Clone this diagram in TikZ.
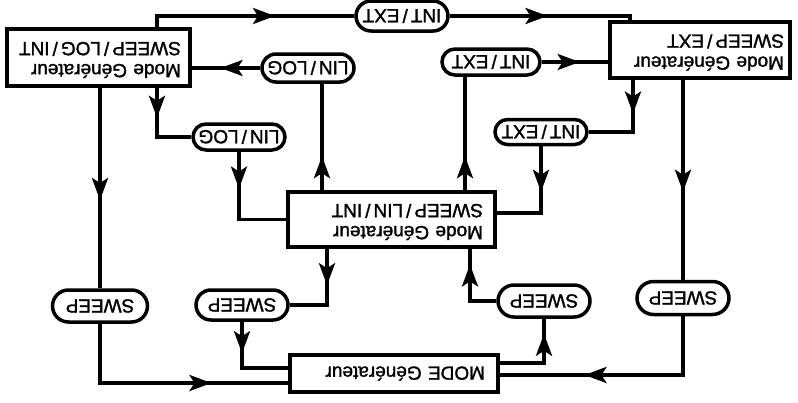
\documentclass[tikz,border=0pt]{standalone}
\usepackage{fontspec}
\setmainfont[FakeBold=1.5]{Liberation Sans}
\usepackage{graphicx}
\usetikzlibrary{arrows.meta,shapes.misc,decorations.markings}
\newcommand\flipped[1]{\rotatebox[origin=c]{180}{#1}}
\newcommand\sep{\kern3pt/\kern3pt}

\begin{document}
\begin{tikzpicture}[x=1pt,y=-1pt, line width=3.5pt,
  every node/.style={font=\fontsize{19}{22}\selectfont},
  modebox/.style={draw, rectangle, line width=3.5pt, align=right, inner ysep=0pt},
  oval/.style={draw, rounded rectangle, line width=3.5pt, minimum width=92pt,
    minimum height=28pt, inner sep=0pt},
  midarrow/.style={postaction={decorate}, decoration={markings,
    mark=at position #1 with {\arrow{Stealth[length=22pt,width=16pt,inset=5pt]}}}},
]
\useasboundingbox (0,0) rectangle (798,402);

% generator mode boxes
\node[modebox, text width=159pt, inner xsep=12pt, minimum height=57pt] (A) at (98.5,57.5)
  {\flipped{\begin{tabular}{@{}l@{}}Mode Générateur\\SWEEP\sep LOG\sep INT\end{tabular}}};
\node[modebox, text width=168pt, inner xsep=6pt, minimum height=56pt] (B) at (700,50)
  {\flipped{\begin{tabular}{@{}l@{}}Mode Générateur\\SWEEP\sep EXT\end{tabular}}};
\node[modebox, text width=183pt, inner xsep=12pt, minimum height=55pt] (C) at (391.5,219.5)
  {\flipped{\begin{tabular}{@{}l@{}}Mode Générateur\\SWEEP\sep LIN\sep INT\end{tabular}}};
\node[modebox, text width=182pt, inner xsep=13pt, minimum height=37pt] (D) at (394,373.5)
  {\flipped{MODE Générateur}};

% key ovals
\node[oval, minimum height=30pt] (O1) at (402,16) {\flipped{INT\sep EXT}};
\node[oval] (O2) at (308,68) {\flipped{LIN\sep LOG}};
\node[oval, minimum height=26pt] (O3) at (239,137) {\flipped{LIN\sep LOG}};
\node[oval, minimum width=98pt, minimum height=26pt] (O4) at (491,62) {\flipped{INT\sep EXT}};
\node[oval, minimum height=25pt] (O5) at (541,132) {\flipped{INT\sep EXT}};
\node[oval, minimum width=95pt, minimum height=32pt] (S1) at (100,306) {\flipped{SWEEP}};
\node[oval, minimum height=30pt] (S2) at (242,305) {\flipped{SWEEP}};
\node[oval, minimum height=32pt] (S3) at (544,301) {\flipped{SWEEP}};
\node[oval, minimum height=33pt] (S4) at (683,298) {\flipped{SWEEP}};

% transitions
\draw[midarrow=0.62] ([xshift=58.5pt]A.north) |- (O1.west);
\draw[midarrow=0.53] (O1.east) -| ([xshift=-70pt]B.north);
\draw[midarrow=0.58] (O2.west) -- (O2.west -| A.east);
\coordinate (c3) at ([xshift=-69.5pt]C.north);
\draw[midarrow=0.32] (c3) -- (c3 |- O2.south);
\draw[midarrow=0.36] ([xshift=58.5pt]A.south) |- (O3.west);
\draw[midarrow=0.32] (O3.south) |- (C.west);
\draw[midarrow=0.56] (A.south -| S1.north) -- (S1.north);
\draw[midarrow=0.69] (S1.south) |- ([yshift=-9.5pt]D.west);
\draw[midarrow=0.39] ([xshift=-64.5pt]C.south) |- (S2.east);
\draw[midarrow=0.34] (S2.south) |- ([yshift=5.5pt]D.west);
\draw[midarrow=0.83] ([yshift=10.5pt]D.east) -| (S3.south);
\draw[midarrow=0.80] (S3.west) -| ([xshift=78.5pt]C.south);
\draw[midarrow=0.41] (O5.south) |- ([yshift=6.5pt]C.east);
\coordinate (c13) at ([xshift=73.5pt]C.north);
\draw[midarrow=0.30] (c13) -- (c13 |- O4.south);
\draw[midarrow=0.57] (O4.east) -- (O4.east -| B.west);
\draw[midarrow=0.35] ([xshift=-67pt]B.south) |- (O5.east);
\draw[midarrow=0.56] (B.south -| S4.north) -- (S4.north);
\draw[midarrow=0.65] (S4.south) |- ([yshift=-1.5pt]D.east);
\end{tikzpicture}
\end{document}
